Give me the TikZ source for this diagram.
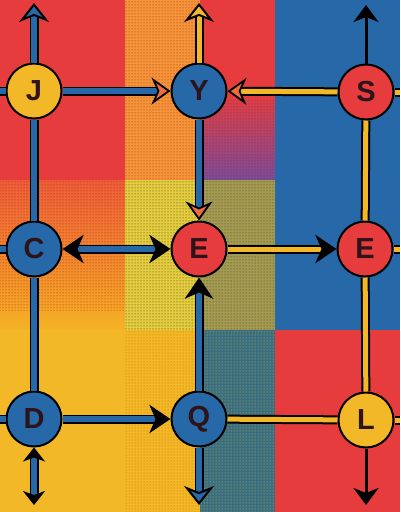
\documentclass[tikz,border=0pt]{standalone}
\usepackage{fontspec}
\setmainfont{Liberation Sans}
\usetikzlibrary{arrows.meta,patterns}
\definecolor{myred}{RGB}{230,60,62}
\definecolor{myblue}{RGB}{38,104,168}
\definecolor{myyellow}{RGB}{243,184,40}
\definecolor{orbase}{RGB}{242,150,58}
\definecolor{orleft}{RGB}{236,95,58}
\definecolor{purp}{RGB}{125,75,150}
\definecolor{ylmid}{RGB}{228,205,62}
\definecolor{olive}{RGB}{165,155,80}
\definecolor{teal}{RGB}{55,110,130}
\definecolor{tipor}{RGB}{235,110,60}
\definecolor{txt}{RGB}{45,20,25}
\begin{document}
\begin{tikzpicture}[x=1pt,y=-1pt,
  nd/.style={circle, draw=black, line width=2pt, minimum size=55pt, inner sep=0pt,
    font=\fontsize{29}{29}\selectfont\bfseries, text=txt},
  bl/.style={line width=5.5pt, draw=myblue, preaction={draw=black, line width=9pt, arrows=-}},
  yl/.style={line width=5pt, draw=myyellow, preaction={draw=black, line width=9pt, arrows=-}},
  bla/.style={line width=5.5pt, draw=myblue, preaction={draw=black, line width=9pt, arrows=-, shorten >=9pt}},
  yla/.style={line width=5pt, draw=myyellow, preaction={draw=black, line width=9pt, arrows=-, shorten >=9pt}},
  blaa/.style={line width=5.5pt, draw=myblue, preaction={draw=black, line width=9pt, arrows=-, shorten >=7pt, shorten <=7pt}},
  bk/.style={line width=3pt, draw=black},
  bigtip/.style={-{Stealth[length=21pt,width=28pt,inset=6pt,color=black]}},
  bigtips/.style={{Stealth[length=21pt,width=28pt,inset=6pt,color=black]}-{Stealth[length=21pt,width=28pt,inset=6pt,color=black]}},
  ortip/.style={-{Stealth[length=19pt,width=27pt,inset=6pt,color=black,fill=tipor,line width=1.8pt]}},
  blchev/.style={-{Stealth[length=19pt,width=30pt,inset=6pt,color=black,fill=myblue,line width=2pt]}},
  ylchev/.style={-{Stealth[length=19pt,width=30pt,inset=6pt,color=black,fill=myyellow,line width=2pt]}},
  bktip/.style={-{Stealth[length=17pt,width=25pt,inset=5pt,color=black]}},
  smtips/.style={{Stealth[length=14pt,width=22pt,inset=4pt,color=black]}-{Stealth[length=14pt,width=22pt,inset=4pt,color=black]}}
]
\useasboundingbox (0,0) rectangle (400,512);
% ---- background ----
\fill[myred] (0,0) rectangle (125,180);
\shade[top color=orleft, bottom color=myyellow!90!orange] (0,180) rectangle (125,330);
\fill[pattern=dots, pattern color=red!75!black] (0,180) rectangle (125,310);
\fill[myyellow] (0,330) rectangle (125,512);
\fill[orbase] (125,0) rectangle (200,180);
\fill[pattern=dots, pattern color=red!80!black] (125,0) rectangle (200,180);
\fill[myred] (200,0) rectangle (275,180);
\shade[top color=myred, bottom color=purp] (200,95) rectangle (275,180);
\fill[pattern=dots, pattern color=purp!70!black] (200,100) rectangle (275,180);
\fill[ylmid] (125,180) rectangle (200,330);
\fill[pattern=dots, pattern color=black!70!olive] (125,180) rectangle (200,330);
\fill[olive] (200,180) rectangle (275,330);
\fill[pattern=dots, pattern color=black!80] (200,180) rectangle (275,330);
\fill[myyellow] (125,330) rectangle (200,512);
\fill[pattern=dots, pattern color=orange!80!black] (125,330) rectangle (200,512);
\fill[teal] (200,330) rectangle (275,512);
\fill[pattern=dots, pattern color=myyellow] (200,330) rectangle (275,512);
\fill[myblue] (275,0) rectangle (400,330);
\fill[myred] (275,330) rectangle (400,512);
% ---- nodes ----
\node[nd, fill=myyellow] (J) at (34,91) {J};
\node[nd, fill=myblue]   (Y) at (199,91) {Y};
\node[nd, fill=myred]    (S) at (366,92) {S};
\node[nd, fill=myblue]   (C) at (34,249) {C};
\node[nd, fill=myred]    (E1) at (199,249) {E};
\node[nd, fill=myred]    (E2) at (365,249) {E};
\node[nd, fill=myblue]   (D) at (34,419) {D};
\node[nd, fill=myblue]   (Q) at (199,419) {Q};
\node[nd, fill=myyellow] (L) at (366,420) {L};
% free ends
\coordinate (Jt) at (34,3);
\coordinate (Yt) at (199,3);
\coordinate (St) at (366,5);
\coordinate (Jl) at (0,91);
\coordinate (Cl) at (0,249);
\coordinate (Dl) at (0,419);
\coordinate (Sr) at (400,92);
\coordinate (E2r) at (400,249);
\coordinate (Lr) at (400,420);
\coordinate (Db) at (34,505);
\coordinate (Qb) at (199,505);
\coordinate (Lb) at (366,505);
% ---- connectors ----
\draw[bla, blchev] (J) -- (Jt);
\draw[bl] (J) -- (Jl);
\draw[bl] (C) -- (Cl);
\draw[bl] (D) -- (Dl);
\draw[bl] (J) -- (C);
\draw[bl] (C) -- (D);
\draw[blaa, smtips] (D) -- (Db);
\draw[bla, ortip] (J) -- (Y);
\draw[yla, ylchev] (Y) -- (Yt);
\draw[bla, ortip] (Y) -- (E1);
\draw[yla, ortip] (S) -- (Y);
\draw[bk, bktip] (S) -- (St);
\draw[yl] (S) -- (Sr);
\draw[yl] (S) -- (E2);
\draw[yl] (E2) -- (L);
\draw[yl] (E2) -- (E2r);
\draw[yl] (L) -- (Lr);
\draw[bk, bktip] (L) -- (Lb);
\draw[blaa, bigtips] (C) -- (E1);
\draw[yla, bigtip] (E1) -- (E2);
\draw[bla, bigtip] (Q) -- (E1);
\draw[bla, bigtip] (D) -- (Q);
\draw[bla, blchev] (Q) -- (Qb);
\draw[yl] (Q) -- (L);
\end{tikzpicture}
\end{document}
